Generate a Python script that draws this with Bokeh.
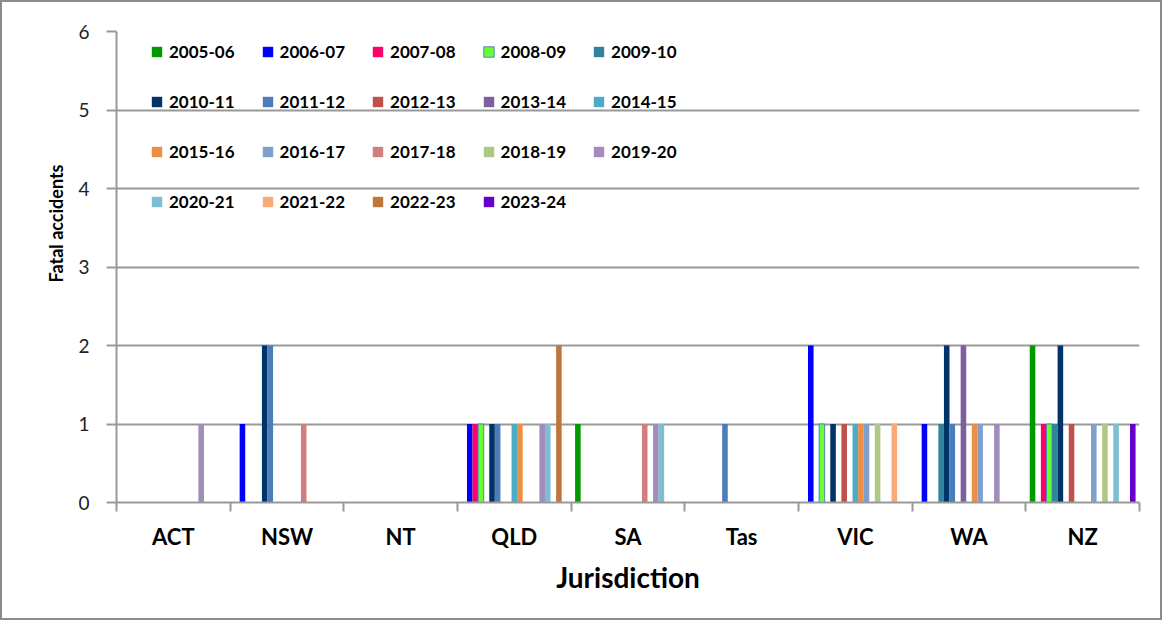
from bokeh.plotting import figure
from bokeh.models import ColumnDataSource, Legend, LegendItem, FixedTicker, Range1d, Title
from bokeh.embed import file_html
from bokeh.resources import INLINE
from bokeh.transform import dodge

jurisdictions = ["ACT", "NSW", "NT", "QLD", "SA", "Tas", "VIC", "WA", "NZ"]
years = ["2005-06", "2006-07", "2007-08", "2008-09", "2009-10",
         "2010-11", "2011-12", "2012-13", "2013-14", "2014-15",
         "2015-16", "2016-17", "2017-18", "2018-19", "2019-20",
         "2020-21", "2021-22", "2022-23", "2023-24"]

# fatal accidents per year, in jurisdiction order ACT..NZ
y2005_06 = [0, 0, 0, 0, 1, 0, 0, 0, 2]
y2006_07 = [0, 1, 0, 1, 0, 0, 2, 1, 0]
y2007_08 = [0, 0, 0, 1, 0, 0, 0, 0, 1]
y2008_09 = [0, 0, 0, 1, 0, 0, 1, 0, 1]
y2009_10 = [0, 0, 0, 0, 0, 0, 0, 1, 1]
y2010_11 = [0, 2, 0, 1, 0, 0, 1, 2, 2]
y2011_12 = [0, 2, 0, 1, 0, 1, 0, 1, 0]
y2012_13 = [0, 0, 0, 0, 0, 0, 1, 0, 1]
y2013_14 = [0, 0, 0, 0, 0, 0, 0, 2, 0]
y2014_15 = [0, 0, 0, 1, 0, 0, 1, 0, 0]
y2015_16 = [0, 0, 0, 1, 0, 0, 1, 1, 0]
y2016_17 = [0, 0, 0, 0, 0, 0, 1, 1, 1]
y2017_18 = [0, 1, 0, 0, 1, 0, 0, 0, 0]
y2018_19 = [0, 0, 0, 0, 0, 0, 1, 0, 1]
y2019_20 = [1, 0, 0, 1, 1, 0, 0, 1, 0]
y2020_21 = [0, 0, 0, 1, 1, 0, 0, 0, 1]
y2021_22 = [0, 0, 0, 0, 0, 0, 1, 0, 0]
y2022_23 = [0, 0, 0, 2, 0, 0, 0, 0, 0]
y2023_24 = [0, 0, 0, 0, 0, 0, 0, 0, 1]

series = [y2005_06, y2006_07, y2007_08, y2008_09, y2009_10, y2010_11, y2011_12,
          y2012_13, y2013_14, y2014_15, y2015_16, y2016_17, y2017_18, y2018_19,
          y2019_20, y2020_21, y2021_22, y2022_23, y2023_24]

colors = ["#009A00", "#0000FF", "#FF0066", "#66FF33", "#31849B",
          "#003366", "#4A7DBA", "#C0504D", "#7D5F9F", "#4BACC6",
          "#EA8F45", "#7F9FCC", "#D07E7E", "#AFC886", "#A18CBB",
          "#7DBED3", "#F9AA78", "#C0763A", "#6600CC"]
line_colors = [None] * len(years)
line_colors[3] = "#4F81BD"

FONT = "Lato"
GRID = "#999999"

p = figure(width=1162, height=620,
           x_range=Range1d(0, len(jurisdictions)), y_range=Range1d(0, 6),
           output_backend="svg", toolbar_location=None,
           min_border_left=114, min_border_right=25, min_border_top=29, min_border_bottom=120)
p.styles = {"border": "2px solid #8c8c8c"}
p.outline_line_color = None
p.background_fill_color = "white"

bar_w = 0.049
n = len(years)
items = []
for k, (yr, vals) in enumerate(zip(years, series)):
    xs = [i + 0.5 for i, v in enumerate(vals) if v > 0]
    hs = [v for v in vals if v > 0]
    src = ColumnDataSource(dict(x=xs, top=hs))
    off = (k - (n - 1) / 2) * bar_w
    r = p.vbar(x=dodge("x", off), top="top", width=bar_w, source=src,
               fill_color=colors[k],
               line_color=line_colors[k] if line_colors[k] else None,
               line_width=1)
    items.append(LegendItem(label=yr, renderers=[r]))

legend = Legend(items=items, orientation="horizontal", ncols=5,
                location=(34, 289), padding=0, margin=0,
                border_line_color=None, background_fill_alpha=0,
                glyph_width=13, glyph_height=13, label_standoff=6,
                label_width=60, label_height=24, spacing=26,
                label_text_font=FONT, label_text_font_style="bold",
                label_text_font_size="17px", label_text_color="black")
p.add_layout(legend)

# y axis
p.yaxis.ticker = FixedTicker(ticks=[0, 1, 2, 3, 4, 5, 6])
p.yaxis.major_label_text_font = FONT
p.yaxis.major_label_text_font_size = "19px"
p.yaxis.major_label_text_color = "#222222"
p.yaxis.major_label_standoff = 17
p.yaxis.major_tick_out = 10
p.yaxis.major_tick_in = 0
p.yaxis.minor_tick_line_color = None
p.yaxis.axis_line_color = GRID
p.yaxis.axis_line_width = 2
p.yaxis.major_tick_line_color = GRID
p.yaxis.major_tick_line_width = 2

ytitle = Title(text="Fatal accidents", align="left", offset=220, standoff=18,
               text_font=FONT, text_font_style="bold", text_font_size="18px",
               text_color="black")
p.add_layout(ytitle, "left")

# x axis: labels at group centres, ticks at group boundaries
centres = [i + 0.5 for i in range(len(jurisdictions))]
bounds = list(range(len(jurisdictions) + 1))
p.xaxis.ticker = FixedTicker(ticks=centres, minor_ticks=bounds)
p.xaxis.major_label_overrides = {c: j for c, j in zip(centres, jurisdictions)}
p.xaxis.major_tick_line_color = None
p.xaxis.major_tick_out = 9
p.xaxis.major_tick_in = 0
p.xaxis.minor_tick_out = 9
p.xaxis.minor_tick_in = 0
p.xaxis.minor_tick_line_color = GRID
p.xaxis.minor_tick_line_width = 2
p.xaxis.axis_line_color = GRID
p.xaxis.axis_line_width = 2
p.xaxis.major_label_text_font = FONT
p.xaxis.major_label_text_font_style = "bold"
p.xaxis.major_label_text_font_size = "22px"
p.xaxis.major_label_text_color = "black"
p.xaxis.major_label_standoff = 11
p.xaxis.axis_label = "Jurisdiction"
p.xaxis.axis_label_text_font = FONT
p.xaxis.axis_label_text_font_style = "bold"
p.xaxis.axis_label_text_font_size = "28px"
p.xaxis.axis_label_text_color = "black"
p.xaxis.axis_label_standoff = 7

p.xgrid.grid_line_color = None
p.ygrid.ticker = FixedTicker(ticks=[1, 2, 3, 4, 5, 6])
p.ygrid.grid_line_color = GRID
p.ygrid.grid_line_width = 2

open("out.html", "w").write(file_html(p, INLINE))
